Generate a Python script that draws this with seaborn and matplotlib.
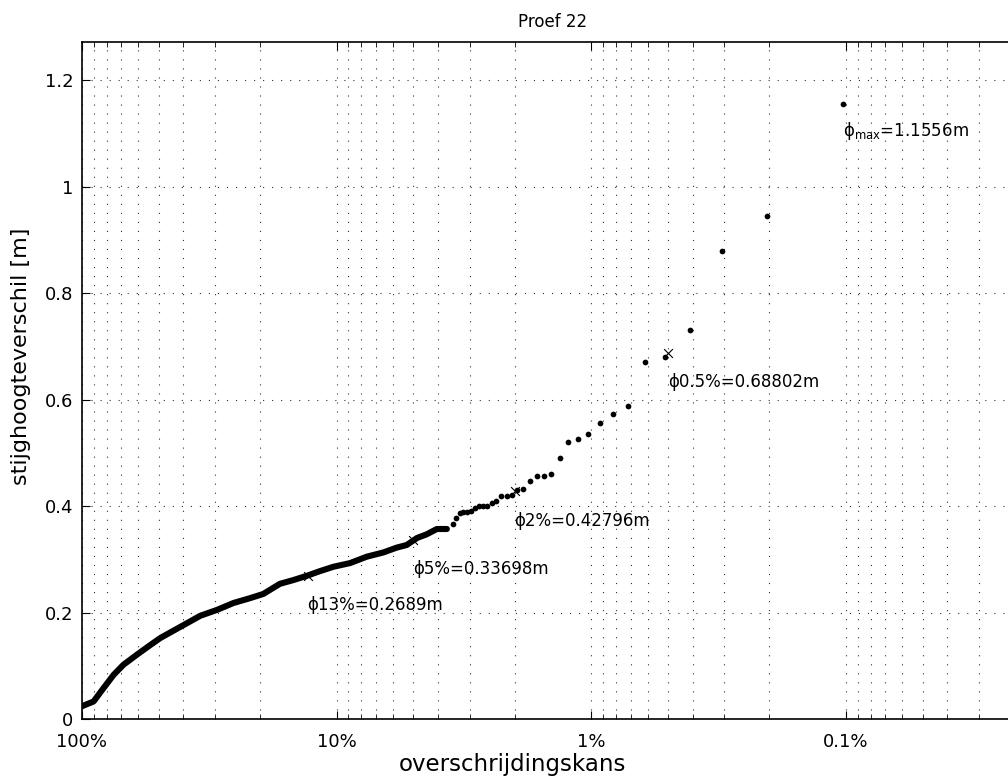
import numpy as np
import pandas as pd
import matplotlib
matplotlib.use("Agg")
import matplotlib.pyplot as plt
from matplotlib.ticker import FixedLocator, LogLocator, NullFormatter
import seaborn as sns

# dense part of the exceedance curve, p in %
dense_p = [100, 90.0, 82.3, 75.1, 68.7, 60.8, 53.9, 49.3, 43.7, 38.7, 34.3,
           29.5, 25.4, 21.9, 19.4, 16.7, 14.8, 13.1, 11.6, 10.3, 8.85, 7.61,
           6.55, 5.81, 5.30, 4.84, 4.43, 4.04, 3.69]
dense_v = [0.024, 0.033, 0.058, 0.083, 0.102, 0.121, 0.139, 0.152, 0.166, 0.180,
           0.194, 0.205, 0.218, 0.227, 0.235, 0.254, 0.261, 0.269, 0.278, 0.286,
           0.293, 0.305, 0.313, 0.322, 0.327, 0.340, 0.347, 0.357, 0.357]

# separate points in the tail
tail_p = [3.50, 3.39, 3.28, 3.18, 3.08, 2.98, 2.87, 2.77, 2.67, 2.56, 2.46, 2.36,
          2.26, 2.15, 2.05, 1.95, 1.85, 1.74, 1.64, 1.54, 1.44, 1.33, 1.23, 1.13,
          1.03, 0.923, 0.821, 0.718, 0.616, 0.513, 0.410, 0.308, 0.205, 0.1026]
tail_v = [0.3666, 0.3784, 0.3867, 0.3890, 0.3897, 0.3916, 0.3960, 0.4010, 0.4010,
          0.4010, 0.4054, 0.4103, 0.4190, 0.4197, 0.4206, 0.4304, 0.4323, 0.4473,
          0.4567, 0.4573, 0.4610, 0.4910, 0.5210, 0.5260, 0.5350, 0.5568, 0.5726,
          0.5887, 0.6714, 0.6808, 0.7309, 0.8790, 0.9455, 1.1556]

# marked quantiles
quant_p = [13, 5, 2, 0.5]
quant_v = [0.2689, 0.33698, 0.42796, 0.68802]
quant_labels = ["ϕ13%=0.2689m", "ϕ5%=0.33698m", "ϕ2%=0.42796m", "ϕ0.5%=0.68802m"]

max_p = 0.1026
max_v = 1.1556

x_ticks = [100, 10, 1, 0.1]
x_ticklabels = ["100%", "10%", "1%", "0.1%"]
y_ticks = [0, 0.2, 0.4, 0.6, 0.8, 1.0, 1.2]
y_ticklabels = ["0", "0.2", "0.4", "0.6", "0.8", "1", "1.2"]

sns.set_style("white")
plt.rcParams["font.family"] = ["DejaVu Sans"]
plt.rcParams["mathtext.fontset"] = "dejavusans"
plt.rcParams["lines.scale_dashes"] = False
for key in ["text.color", "axes.labelcolor", "xtick.color", "ytick.color"]:
    plt.rcParams[key] = "k"

fig = plt.figure(figsize=(10.08, 7.79), dpi=100)
ax = fig.add_axes([0.0813, 0.0770, 0.9345, 0.8691])

dense = pd.DataFrame({"p": dense_p, "v": dense_v})
tail = pd.DataFrame({"p": tail_p, "v": tail_v})
quant = pd.DataFrame({"p": quant_p, "v": quant_v})

sns.lineplot(data=dense, x="p", y="v", ax=ax, color="k", lw=4.4, sort=False,
             solid_capstyle="round", solid_joinstyle="round")
sns.scatterplot(data=tail, x="p", y="v", ax=ax, color="k", s=17, linewidth=0)
sns.scatterplot(data=quant, x="p", y="v", ax=ax, color="k", marker="x",
                s=40, linewidth=0.8)

ax.set_xscale("log")
ax.set_xlim(100, 0.02)
ax.set_ylim(0, 1.272)

for p, v, lab in zip(quant_p, quant_v, quant_labels):
    ax.text(p, v - 0.055, lab, fontsize=12, ha="left", va="center")
ax.text(max_p, max_v - 0.05, "ϕ$_{\\mathregular{max}}$=1.1556m", fontsize=12,
        ha="left", va="center")

ax.xaxis.set_major_locator(FixedLocator(x_ticks))
ax.set_xticklabels(x_ticklabels)
ax.xaxis.set_minor_locator(LogLocator(base=10, subs=np.arange(2, 10)))
ax.xaxis.set_minor_formatter(NullFormatter())
ax.set_yticks(y_ticks)
ax.set_yticklabels(y_ticklabels)

ax.tick_params(which="both", direction="in", top=True, bottom=True, left=True,
               right=False, labelsize=13, color="k")
ax.tick_params(which="major", length=6, width=0.8)
ax.tick_params(which="minor", length=3.5, width=0.6)
ax.tick_params(axis="x", pad=10)
ax.tick_params(axis="y", pad=6)

grid_style = dict(color="0.2", linestyle=(0, (0.8, 5.7)), linewidth=0.8)
ax.grid(True, which="major", axis="both", **grid_style)
ax.grid(True, which="minor", axis="x", **grid_style)

for side in ["left", "top", "bottom"]:
    ax.spines[side].set_visible(True)
    ax.spines[side].set_color("k")
    ax.spines[side].set_linewidth(1.2)
ax.spines["right"].set_visible(False)

ax.set_xlabel("overschrijdingskans", fontsize=16.5)
ax.set_ylabel("stijghoogteverschil [m]", fontsize=16)
ax.xaxis.set_label_coords(0.457, -0.0505)
ax.yaxis.set_label_coords(-0.054, 0.535)
ax.set_title("Proef 22", fontsize=12, pad=11)

fig.savefig("out.png", dpi=100)
